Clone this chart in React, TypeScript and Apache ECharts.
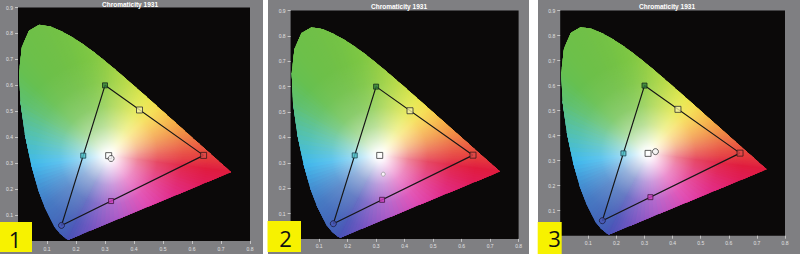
import React, { useEffect, useRef } from "react";
import * as echarts from "echarts";

// ---------- data ----------
const TITLE = "Chromaticity 1931";
const PANEL_LABELS = ["1", "2", "3"];
const X_RANGE = [0, 0.8];
const Y_RANGE = [0, 0.9];

// CIE 1931 spectral locus (x, y) + line of purples back to 380 nm
const LOCUS_XY: [number, number][] = [
  [0.1741, 0.005], [0.1714, 0.0051], [0.1644, 0.0109], [0.1566, 0.0177],
  [0.144, 0.0297], [0.1241, 0.0578], [0.0913, 0.1327], [0.0687, 0.2007],
  [0.0454, 0.295], [0.0235, 0.4127], [0.0082, 0.5384], [0.0039, 0.6548],
  [0.0139, 0.7502], [0.0389, 0.812], [0.0743, 0.8338], [0.1142, 0.8262],
  [0.1547, 0.8059], [0.1929, 0.7816], [0.2296, 0.7543], [0.2658, 0.7243],
  [0.3016, 0.6923], [0.3373, 0.6589], [0.3731, 0.6245], [0.4087, 0.5896],
  [0.4441, 0.5547], [0.4788, 0.5202], [0.5125, 0.4866], [0.5448, 0.4544],
  [0.5752, 0.4242], [0.6029, 0.3965], [0.627, 0.3725], [0.6482, 0.3514],
  [0.6658, 0.334], [0.6915, 0.3083], [0.7079, 0.292], [0.726, 0.274],
  [0.7347, 0.2653],
  [0.65, 0.226], [0.55, 0.1795], [0.45, 0.1331], [0.35, 0.0867], [0.25, 0.0402],
];
const LOCUS_COLORS: string[] = [
  "#4650b6", "#4652b6", "#4456b6", "#425ab6",
  "#405eb6", "#3e64b8", "#3c72c0", "#3a8ad0",
  "#36b6ec", "#4cbfae", "#5ec070", "#66c050",
  "#6cc04a", "#6ec048", "#70c048", "#72c146",
  "#74c246", "#78c444", "#7cc644", "#84c944",
  "#90cc42", "#a0d242", "#b4d840", "#cce040",
  "#e4e640", "#f4dc40", "#f6c23e", "#f4a63c",
  "#f08c3c", "#ec743e", "#ea6040", "#e8503e",
  "#e6443e", "#e4363e", "#e22c40", "#e02240",
  "#e01c3e",
  "#e01c54", "#e0207c", "#dc30a8", "#a444c0", "#6a4cbe",
];
const WHITE_POINT: [number, number] = [0.3127, 0.329];

const GAMUT_TRIANGLE: [number, number][] = [
  [0.64, 0.33], [0.3, 0.6], [0.15, 0.06], [0.64, 0.33],
];
const TARGET_NAMES = ["R", "G", "B", "C", "Y", "M", "W"];
const TARGET_XY: [number, number][] = [
  [0.64, 0.33], [0.3, 0.6], [0.15, 0.06], [0.225, 0.329],
  [0.419, 0.505], [0.321, 0.154], [0.3127, 0.329],
];
const MEASURED_WHITE: [number, number][] = [
  [0.321, 0.318], [0.325, 0.255], [0.339, 0.336],
];

// ---------- styles / layout ----------
const TARGET_STYLE: Record<string, { symbol: string; size: number; fill: string; stroke: string }> = {
  R: { symbol: "rect", size: 6, fill: "#e04848", stroke: "#3a1a1a" },
  G: { symbol: "rect", size: 5, fill: "#2f7a3a", stroke: "#16301a" },
  B: { symbol: "circle", size: 6, fill: "#4858b8", stroke: "#1c1c3c" },
  C: { symbol: "rect", size: 5, fill: "#4cc0c8", stroke: "#1c4450" },
  Y: { symbol: "rect", size: 6, fill: "#f4f0a0", stroke: "#303030" },
  M: { symbol: "rect", size: 5, fill: "#d040c0", stroke: "#401840" },
  W: { symbol: "rect", size: 6, fill: "rgba(255,255,255,0.25)", stroke: "#3a3a3a" },
};
const MEASURED_STYLE = [
  { symbol: "circle", size: 6, fill: "#f4f4f4", stroke: "#404040" },
  { symbol: "circle", size: 4, fill: "#ffffff", stroke: "#9a9a9a" },
  { symbol: "circle", size: 6, fill: "#f4f4f4", stroke: "#404040" },
];

const PANELS = [
  { bg: [0, 0, 263, 254], grid: { left: 18, top: 7.5, width: 232, height: 233.5 }, titleX: 130, titleY: 0.8, box: [0, 222, 32, 30], labelX: 15, labelY: 238.5 },
  { bg: [268, 0, 260.5, 254], grid: { left: 290.6, top: 10.5, width: 228, height: 228.4 }, titleX: 399, titleY: 3.2, box: [267.5, 221, 33.5, 31], labelX: 285.5, labelY: 238 },
  { bg: [538, 0, 262, 254], grid: { left: 560.2, top: 10.5, width: 224.8, height: 225.2 }, titleX: 667, titleY: 3.2, box: [537.7, 222, 24, 32], labelX: 554.5, labelY: 238 },
];

// white glow around the white point: [offset, alpha]
const GLOW_RADIUS = 0.34;
const GLOW: [number, number][] = [
  [0, 1], [0.06, 0.95], [0.15, 0.76], [0.3, 0.46], [0.5, 0.2], [0.75, 0.06], [1, 0],
];
const SUBDIV = 6;

function hexToRgb(h: string) {
  const v = parseInt(h.slice(1), 16);
  return [(v >> 16) & 255, (v >> 8) & 255, v & 255];
}
function lerpColor(a: string, b: string, t: number) {
  const A = hexToRgb(a);
  const B = hexToRgb(b);
  const c = A.map((x, i) => Math.round(x * (1 - t) + B[i] * t));
  return `rgb(${c[0]},${c[1]},${c[2]})`;
}

export default function App() {
  const ref = useRef<HTMLDivElement>(null);

  useEffect(() => {
    if (!ref.current) return;
    const chart = echarts.init(ref.current, undefined, { renderer: "svg", width: 800, height: 257 });
    const n = LOCUS_XY.length;
    const segments = LOCUS_XY.map((p, i) => {
      const q = LOCUS_XY[(i + 1) % n];
      const r = LOCUS_XY[(i + 2) % n];
      return [p[0], p[1], q[0], q[1], r[0], r[1]];
    });

    const grids: any[] = [];
    const xAxes: any[] = [];
    const yAxes: any[] = [];
    const series: any[] = [];
    const graphics: any[] = [];

    PANELS.forEach((pn, p) => {
      grids.push({
        ...pn.grid,
        show: true,
        backgroundColor: "#0b0909",
        borderWidth: 0,
        containLabel: false,
      });
      const labelStyle = {
        fontSize: 5,
        color: "#e2e2e2",
        fontFamily: "Liberation Sans",
        margin: 5,
        showMinLabel: false,
        formatter: (v: number) => v.toFixed(1),
      };
      xAxes.push({
        gridIndex: p, type: "value", min: X_RANGE[0], max: X_RANGE[1], interval: 0.1,
        axisLine: { show: false },
        axisTick: { show: true, length: 3, lineStyle: { color: "#d8d8d8", width: 0.8 } },
        axisLabel: labelStyle,
        splitLine: { show: false },
      });
      yAxes.push({
        gridIndex: p, type: "value", min: Y_RANGE[0], max: Y_RANGE[1], interval: 0.1,
        axisLine: { show: false },
        axisTick: { show: true, length: 3, lineStyle: { color: "#d8d8d8", width: 0.8 } },
        axisLabel: labelStyle,
        splitLine: { show: false },
      });

      // coloured fan of the spectral locus (wedges from the white point)
      series.push({
        type: "custom",
        xAxisIndex: p,
        yAxisIndex: p,
        z: 1,
        silent: true,
        clip: false,
        data: segments,
        encode: { x: [0, 2, 4], y: [1, 3, 5] },
        renderItem: (params: any, api: any) => {
          const i = params.dataIndex;
          const p1 = api.coord([api.value(0), api.value(1)]);
          const p2 = api.coord([api.value(2), api.value(3)]);
          const p3 = api.coord([api.value(4), api.value(5)]);
          const w = api.coord(WHITE_POINT);
          const at = (t: number) => [p1[0] + (p2[0] - p1[0]) * t, p1[1] + (p2[1] - p1[1]) * t];
          const c1 = LOCUS_COLORS[i];
          const c2 = LOCUS_COLORS[(i + 1) % n];
          const children: any[] = [];
          for (let j = 0; j < SUBDIV; j++) {
            const a = at(j / SUBDIV);
            const b = at((j + 1) / SUBDIV);
            const pts = j < SUBDIV - 1 ? [w, a, b, at(Math.min(1, (j + 2) / SUBDIV)), p2] : [w, a, p2, p3];
            children.push({
              type: "polygon",
              shape: { points: pts },
              style: { fill: lerpColor(c1, c2, (j + 0.5) / SUBDIV) },
            });
          }
          return { type: "group", children };
        },
      });

      // white glow clipped to the locus outline
      series.push({
        type: "custom",
        xAxisIndex: p,
        yAxisIndex: p,
        z: 2,
        silent: true,
        clip: false,
        data: [WHITE_POINT],
        renderItem: (params: any, api: any) => {
          const w = api.coord([api.value(0), api.value(1)]);
          const edge = api.coord([api.value(0) + GLOW_RADIUS, api.value(1)]);
          const r = edge[0] - w[0];
          const pts = LOCUS_XY.map((xy) => api.coord(xy));
          const grad = new echarts.graphic.RadialGradient(
            w[0], w[1], r,
            GLOW.map(([o, a]) => ({ offset: o, color: `rgba(255,255,255,${a})` })),
            true
          );
          return {
            type: "polygon",
            shape: { points: pts },
            style: { fill: grad },
          };
        },
      });

      series.push({
        type: "line",
        xAxisIndex: p,
        yAxisIndex: p,
        z: 3,
        silent: true,
        symbol: "none",
        data: GAMUT_TRIANGLE,
        lineStyle: { color: "#161616", width: 1.2 },
      });

      series.push({
        type: "scatter",
        xAxisIndex: p,
        yAxisIndex: p,
        z: 4,
        silent: true,
        data: TARGET_XY.map((xy, k) => {
          const s = TARGET_STYLE[TARGET_NAMES[k]];
          return {
            value: xy,
            symbol: s.symbol,
            symbolSize: s.size,
            itemStyle: { color: s.fill, borderColor: s.stroke, borderWidth: 1 },
          };
        }),
      });

      const ms = MEASURED_STYLE[p];
      series.push({
        type: "scatter",
        xAxisIndex: p,
        yAxisIndex: p,
        z: 5,
        silent: true,
        symbol: ms.symbol,
        symbolSize: ms.size,
        itemStyle: { color: ms.fill, borderColor: ms.stroke, borderWidth: 1 },
        data: [MEASURED_WHITE[p]],
      });

      graphics.push({
        type: "text",
        x: pn.titleX,
        y: pn.titleY,
        z: 50,
        style: {
          text: TITLE,
          fill: "#ffffff",
          font: "bold 6.5px 'Liberation Sans'",
          align: "center",
          verticalAlign: "top",
        },
      });
      graphics.push({
        type: "rect",
        z: 100,
        shape: { x: pn.box[0], y: pn.box[1], width: pn.box[2], height: pn.box[3] },
        style: { fill: "#f7f200" },
      });
      graphics.push({
        type: "text",
        z: 101,
        x: pn.labelX,
        y: pn.labelY,
        style: {
          text: PANEL_LABELS[p],
          fill: "#111111",
          font: "22px 'Open Sans'",
          align: "center",
          verticalAlign: "middle",
        },
      });
    });

    chart.setOption({
      animation: false,
      backgroundColor: "transparent",
      grid: grids,
      xAxis: xAxes,
      yAxis: yAxes,
      series,
      graphic: graphics,
    });
    return () => chart.dispose();
  }, []);

  return (
    <div style={{ position: "fixed", left: 0, top: 0, width: 800, height: 257, background: "#ffffff" }}>
      {PANELS.map((pn, i) => (
        <div
          key={i}
          style={{
            position: "absolute",
            left: pn.bg[0],
            top: pn.bg[1],
            width: pn.bg[2],
            height: pn.bg[3],
            background: "#7f7f82",
          }}
        />
      ))}
      <div ref={ref} style={{ position: "absolute", left: 0, top: 0, width: 800, height: 257 }} />
    </div>
  );
}
